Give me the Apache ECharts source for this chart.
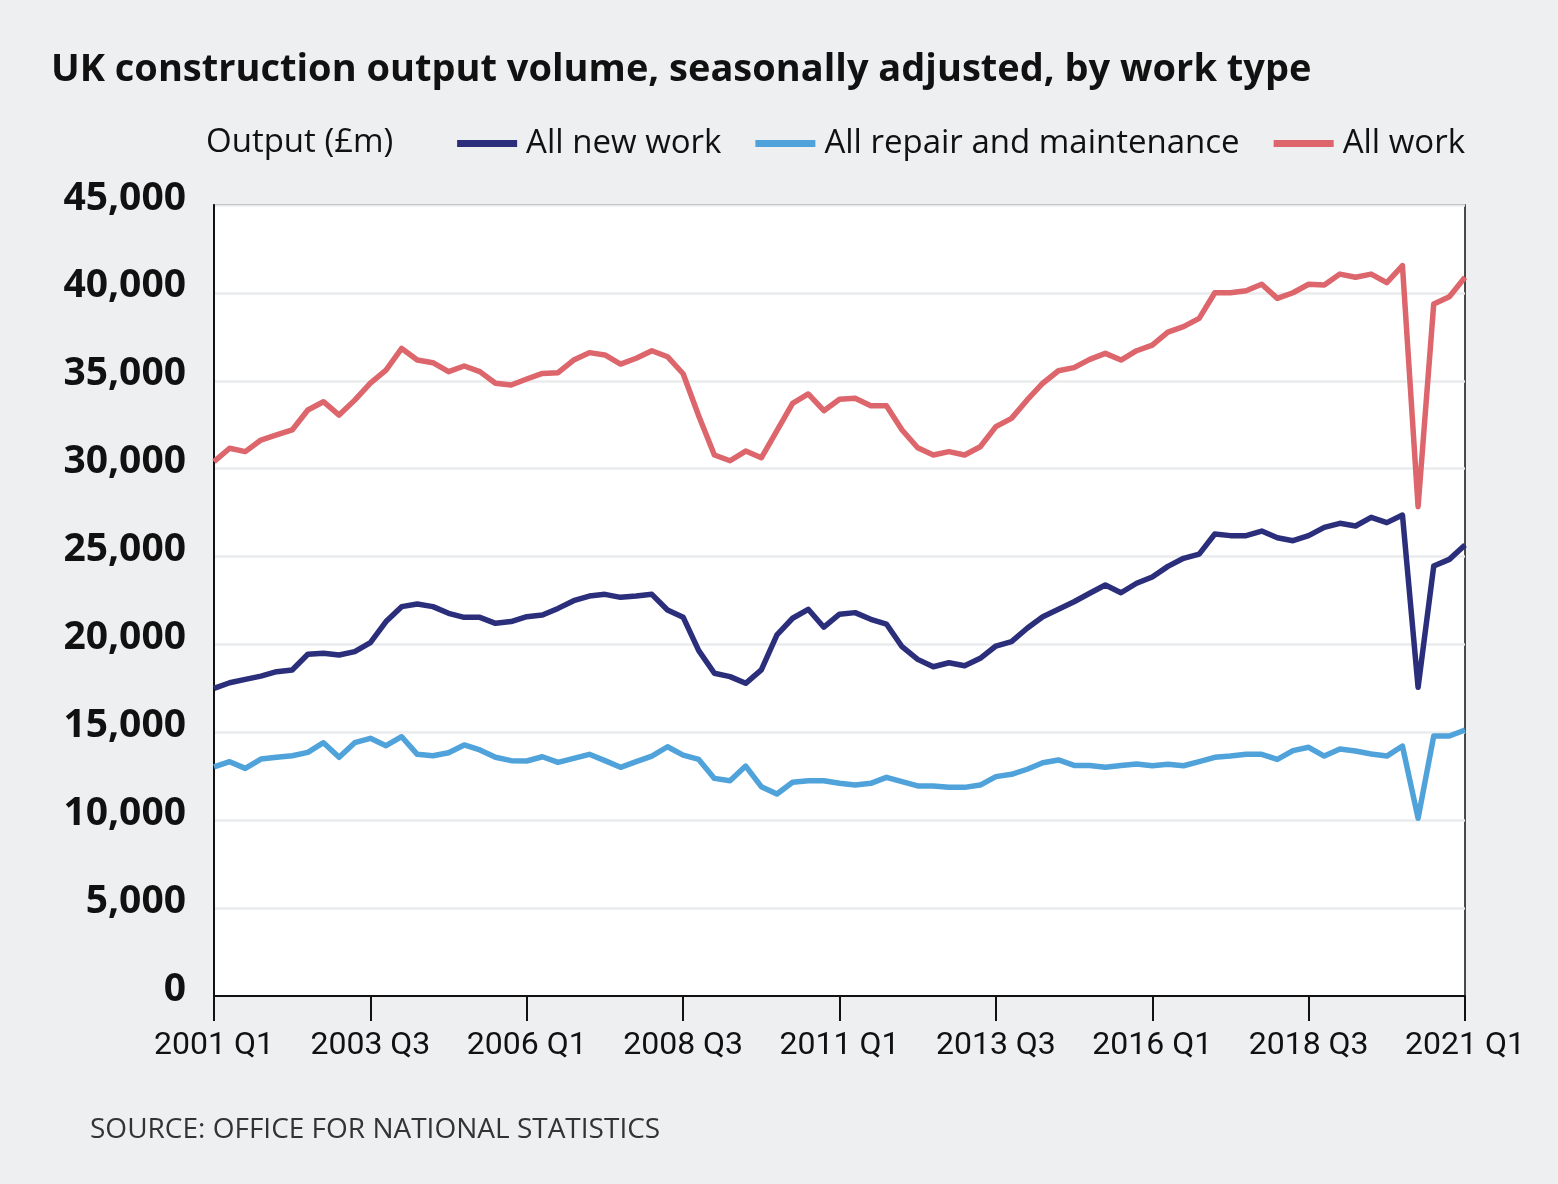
<!DOCTYPE html>
<html>
<head>
<meta charset="utf-8">
<script src="https://cdn.jsdelivr.net/npm/echarts@6/dist/echarts.min.js"></script>
<style>
  html, body { margin: 0; padding: 0; background: #eeeff1; }
  #chart { width: 1558px; height: 1184px; }
</style>
</head>
<body>
<div id="chart"></div>
<script>
const quarters = [
  "2001 Q1","2001 Q2","2001 Q3","2001 Q4","2002 Q1","2002 Q2","2002 Q3","2002 Q4",
  "2003 Q1","2003 Q2","2003 Q3","2003 Q4","2004 Q1","2004 Q2","2004 Q3","2004 Q4",
  "2005 Q1","2005 Q2","2005 Q3","2005 Q4","2006 Q1","2006 Q2","2006 Q3","2006 Q4",
  "2007 Q1","2007 Q2","2007 Q3","2007 Q4","2008 Q1","2008 Q2","2008 Q3","2008 Q4",
  "2009 Q1","2009 Q2","2009 Q3","2009 Q4","2010 Q1","2010 Q2","2010 Q3","2010 Q4",
  "2011 Q1","2011 Q2","2011 Q3","2011 Q4","2012 Q1","2012 Q2","2012 Q3","2012 Q4",
  "2013 Q1","2013 Q2","2013 Q3","2013 Q4","2014 Q1","2014 Q2","2014 Q3","2014 Q4",
  "2015 Q1","2015 Q2","2015 Q3","2015 Q4","2016 Q1","2016 Q2","2016 Q3","2016 Q4",
  "2017 Q1","2017 Q2","2017 Q3","2017 Q4","2018 Q1","2018 Q2","2018 Q3","2018 Q4",
  "2019 Q1","2019 Q2","2019 Q3","2019 Q4","2020 Q1","2020 Q2","2020 Q3","2020 Q4",
  "2021 Q1"
];

const allNewWork = [
  17500,17820,18010,18200,18450,18550,19440,19500,19400,19590,
  20100,21300,22150,22300,22150,21770,21540,21540,21200,21300,
  21580,21670,22050,22490,22750,22850,22680,22750,22850,21960,
  21550,19650,18360,18170,17790,18550,20540,21490,22000,20980,
  21720,21810,21430,21160,19870,19150,18730,18960,18790,19210,
  19910,20160,20920,21580,22000,22430,22910,23380,22940,23480,
  23840,24440,24900,25140,26280,26190,26190,26450,26070,25900,
  26190,26660,26890,26740,27230,26930,27360,17560,24460,24840,
  25660
];

const allRepair = [
  13040,13330,12950,13480,13580,13670,13860,14410,13580,14410,
  14660,14240,14750,13750,13670,13840,14280,14000,13580,13390,
  13370,13610,13290,13520,13750,13390,13010,13330,13650,14180,
  13700,13460,12380,12250,13080,11910,11490,12160,12250,12250,
  12100,12000,12100,12440,12190,11950,11950,11870,11870,12000,
  12480,12610,12900,13270,13430,13120,13110,13010,13110,13200,
  13100,13180,13100,13330,13580,13650,13750,13750,13460,13960,
  14150,13650,14050,13940,13770,13650,14220,10110,14790,14790,
  15130
];

const allWork = [
  30400,31160,30970,31630,31920,32200,33340,33810,33050,33900,
  34870,35610,36840,36180,36030,35520,35840,35520,34860,34760,
  35100,35420,35460,36180,36600,36470,35950,36280,36710,36370,
  35400,33000,30780,30450,31000,30620,32160,33720,34250,33300,
  33950,34000,33580,33580,32200,31190,30780,30970,30780,31250,
  32390,32860,33910,34860,35570,35750,36220,36560,36180,36710,
  37030,37770,38080,38550,40010,40010,40120,40490,39690,40010,
  40490,40450,41070,40890,41070,40580,41550,27840,39370,39780,
  40890
];

const seriesNames = ["All new work", "All repair and maintenance", "All work"];
const seriesColors = ["#2b2e7b", "#4fa3da", "#dc666b"];
const titleText = "UK construction output volume, seasonally adjusted, by work type";
const unitText = "Output (£m)";
const sourceText = "SOURCE: OFFICE FOR NATIONAL STATISTICS";

const FONT = "'Open Sans', Roboto, sans-serif";
const FONT_X = "Roboto, 'Open Sans', sans-serif";
const chart = echarts.init(document.getElementById('chart'), null, { renderer: 'canvas' });

const seriesData = [allNewWork, allRepair, allWork];

chart.setOption({
  backgroundColor: '#eeeff1',
  animation: false,
  textStyle: { fontFamily: FONT },
  title: {
    text: titleText,
    left: 51,
    top: 51,
    padding: 0,
    textStyle: { fontFamily: FONT, fontSize: 38, fontWeight: 'bold', color: '#111' }
  },
  legend: {
    data: seriesNames,
    right: 93,
    top: 127,
    icon: 'rect',
    itemWidth: 60,
    itemHeight: 7,
    itemGap: 34,
    padding: 0,
    textStyle: { fontFamily: FONT, fontSize: 33, color: '#111', padding: [0, 0, 0, 4] }
  },
  graphic: [
    {
      type: 'text',
      left: 206,
      top: 126,
      style: { text: unitText, fontFamily: FONT, fontSize: 33, fill: '#111' }
    },
    {
      type: 'text',
      left: 90,
      top: 1116,
      style: { text: sourceText, fontFamily: FONT, fontSize: 28, fill: '#333' }
    }
  ],
  grid: {
    left: 214,
    right: 93,
    top: 205,
    bottom: 188,
    show: true,
    backgroundColor: '#ffffff',
    borderColor: '#111',
    borderWidth: 1.5
  },
  xAxis: {
    type: 'category',
    data: quarters,
    boundaryGap: false,
    axisLine: { show: true, lineStyle: { color: '#111', width: 2 } },
    axisTick: { show: true, inside: false, length: 25, interval: 9, lineStyle: { color: '#111', width: 2 } },
    axisLabel: {
      interval: 9,
      margin: 34,
      fontFamily: FONT_X,
      fontSize: 32,
      color: '#111'
    },
    splitLine: { show: false }
  },
  yAxis: {
    type: 'value',
    min: 0,
    max: 45000,
    interval: 5000,
    axisLine: { show: true, lineStyle: { color: '#111', width: 2 } },
    axisTick: { show: false },
    axisLabel: {
      margin: 28,
      fontFamily: FONT,
      fontSize: 39,
      fontWeight: 'bold',
      color: '#111',
      verticalAlign: 'bottom',
      lineHeight: 13,
      formatter: function (v) { return v.toLocaleString('en-GB'); }
    },
    splitLine: { show: true, lineStyle: { color: '#e9ebed', width: 2.5 } }
  },
  series: seriesNames.map(function (name, k) {
    return {
      name: name,
      type: 'line',
      data: seriesData[k],
      symbol: 'none',
      lineStyle: { color: seriesColors[k], width: 5.5, join: 'round' },
      itemStyle: { color: seriesColors[k] },
      z: 3 + k
    };
  })
});
</script>
</body>
</html>
